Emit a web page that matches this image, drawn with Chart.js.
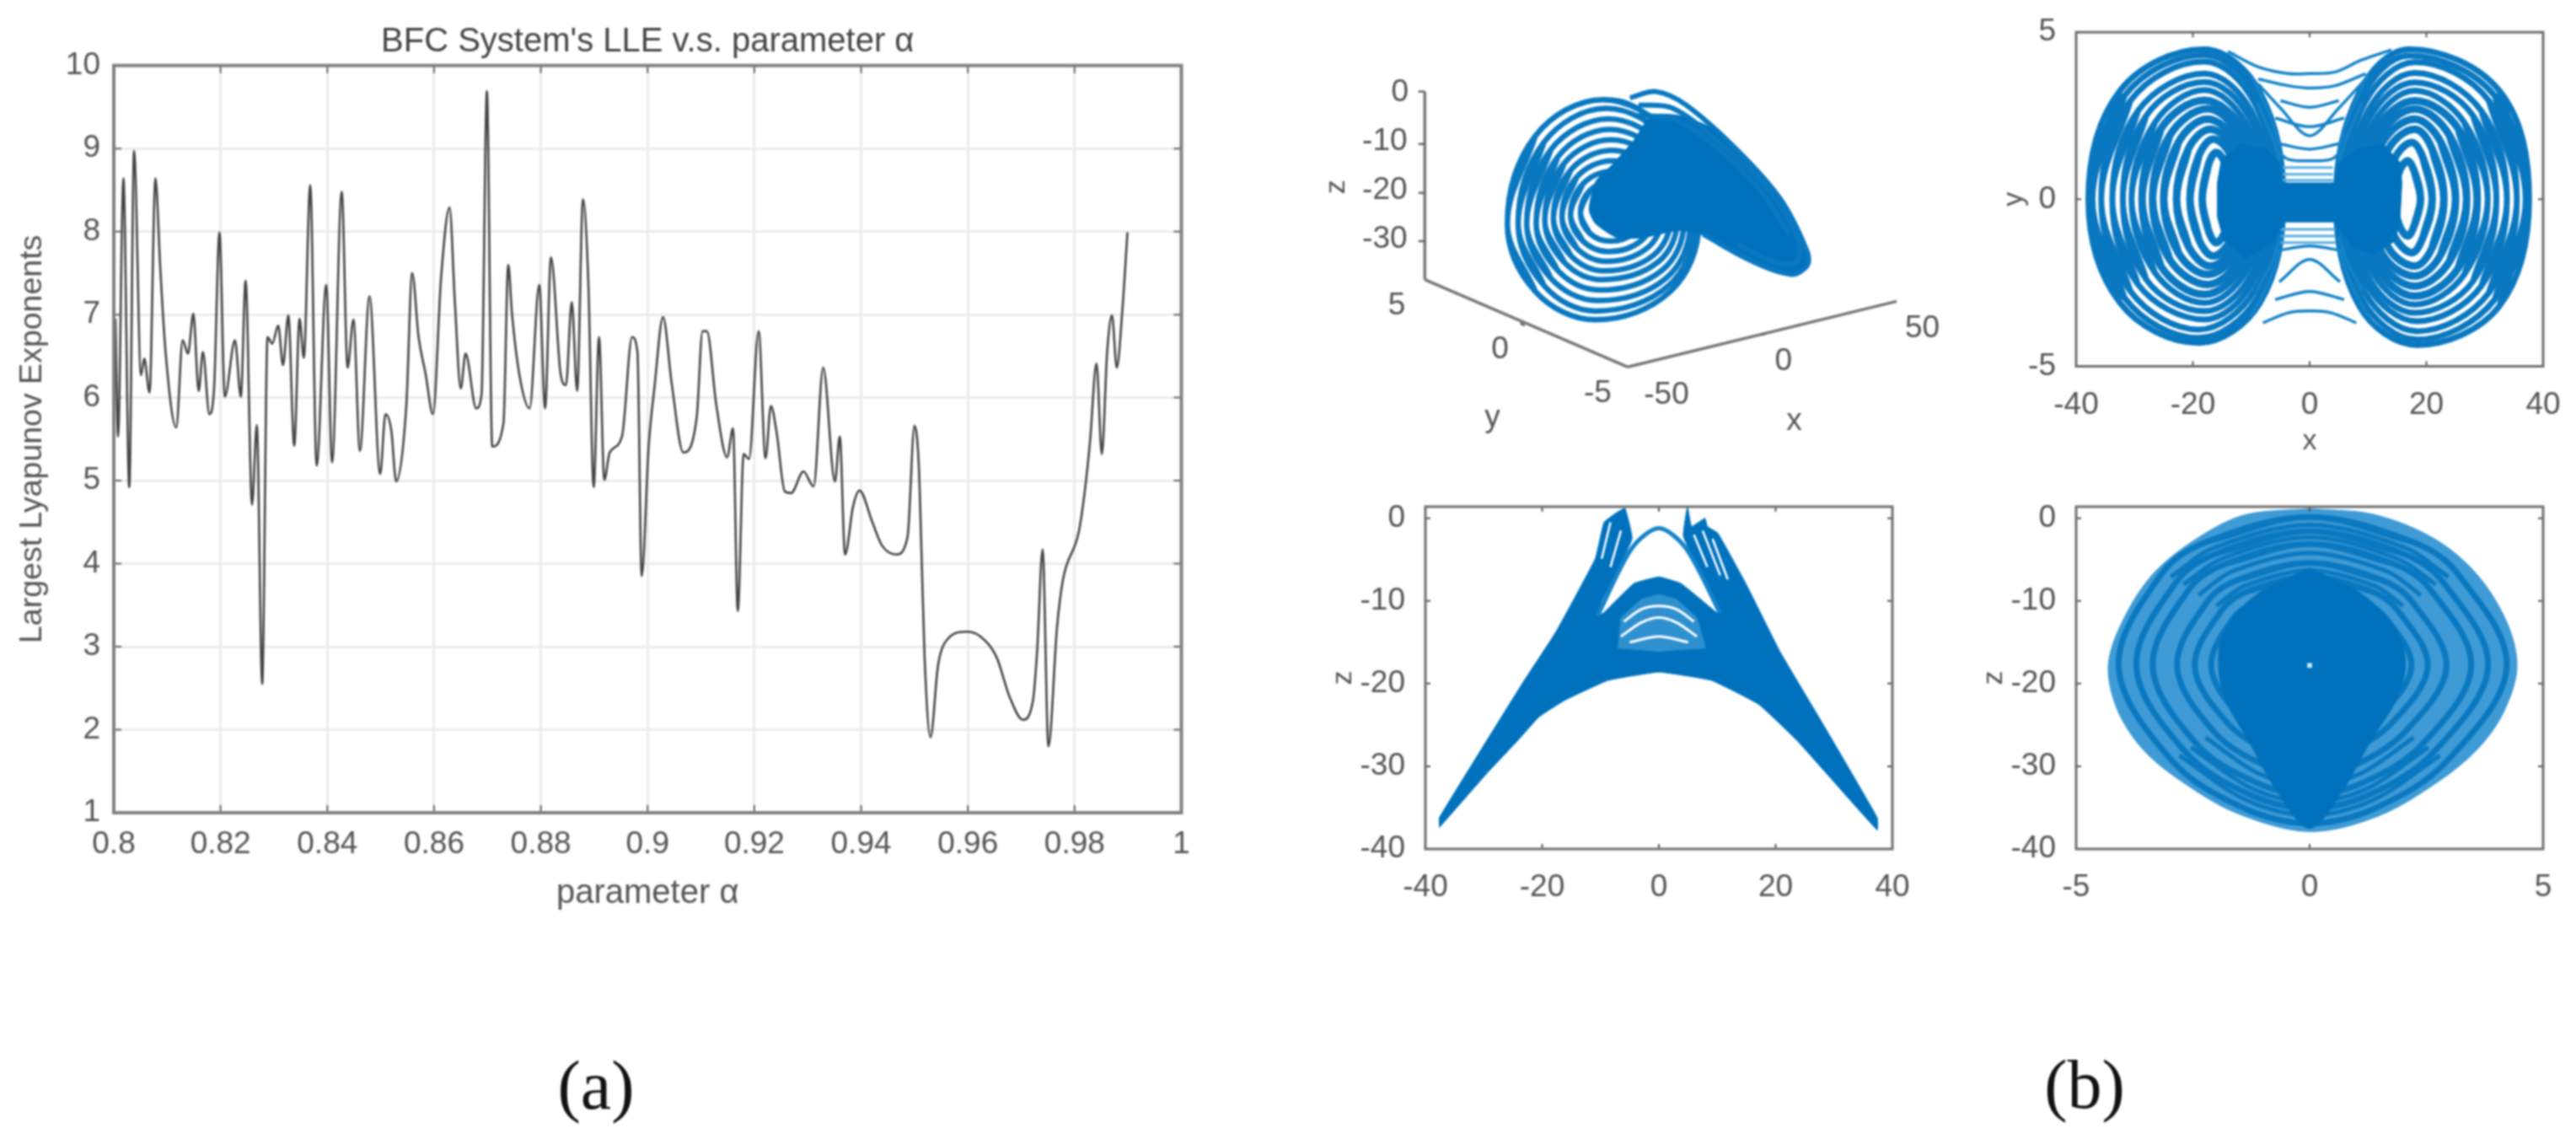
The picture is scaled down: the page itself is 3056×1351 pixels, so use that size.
<!DOCTYPE html>
<html>
<head>
<meta charset="utf-8">
<script src="https://cdn.jsdelivr.net/npm/chart.js@4"></script>
<style>
html, body { margin: 0; background: #fff; }
#page { position: relative; width: 3056px; height: 1351px; overflow: hidden; filter: blur(0.8px); }
canvas { position: absolute; }
.sub { position: absolute; font: 82px "Liberation Serif", serif; color: #111; transform: translate(-50%, -50%); }
</style>
</head>
<body>
<div id="page">
  <canvas id="lle" style="left:0;top:0" width="1552" height="1110"></canvas>
  <canvas id="xyz" style="left:1500px;top:0" width="800" height="650"></canvas>
  <canvas id="xy" style="left:2340px;top:0" width="716" height="560"></canvas>
  <canvas id="xz" style="left:1560px;top:560px" width="740" height="600"></canvas>
  <canvas id="yz" style="left:2340px;top:560px" width="716" height="600"></canvas>
  <div class="sub" style="left:707px;top:1288px">(a)</div>
  <div class="sub" style="left:2473px;top:1287px">(b)</div>
</div>
<script>
// (a) largest lyapunov exponent
var lleAlpha = [.8003,.8008,.8018,.8029,.8038,.8051,.8057,.8067,.8078,.8087,.8097,.8117,.8129,.8139,.8149,.8159,.8167,.8179,.8188,.8198,.8208,.8227,.8238,.8247,.8259,.8268,.8278,.8288,.8297,.8308,.8317,.8327,.8338,.8348,.8356,.8368,.838,.8398,.8409,.8427,.8438,.8449,.8461,.8479,.8499,
  .8509,.852,.8529,.8548,.8559,.8571,.8584,.8598,.8613,.8629,.8639,.865,.8659,.8679,.8689,.8699,.8709,.873,.8739,.8746,.876,.8779,.8797,.8808,.8819,.8837,.8847,.8858,.8868,.8879,.8889,.8899,.8909,.8919,.8929,.8952,.8971,.8981,.8989,.9002,
  .9013,.9029,.9045,.9067,.9092,.9103,.9111,.9129,.9149,.916,.9169,.918,.919,.9208,.9221,.9231,.9242,.9257,.9269,.9292,.9311,.9329,.9351,.936,.937,.9385,.9397,.9421,.9439,.9466,.9487,.95,.9508,
  .9513,.9519,.953,.9544,.9557,.9597,.9622,.9654,.9678,.9703,.9722,.973,.974,.9751,.9767,.9778,.9808,.9819,.9829,.9841,.9851,.9861,.987,.9879,.9889,.9899];
var lleValue = [6.95,5.53,8.64,4.92,8.97,6.27,6.47,6.06,8.64,7.57,6.55,5.64,6.69,6.53,7.01,6.08,6.55,5.8,6.13,7.99,6.01,6.69,6.01,7.41,4.71,5.67,2.55,6.73,6.65,6.87,6.39,6.99,5.42,6.95,6.48,8.56,5.18,7.36,5.22,8.48,6.36,6.94,5.36,7.22,5.08,
  5.8,5.6,4.99,5.9,7.5,6.73,6.29,5.8,7.43,8.29,7.15,6.11,6.53,5.87,6.04,9.69,5.41,5.69,7.6,7.01,6.27,5.87,7.36,5.87,7.69,6.29,6.15,7.15,6.08,8.39,7.39,4.92,6.73,5.01,5.34,5.53,6.73,6.55,3.85,5.41,
  6.13,6.97,6.18,5.34,5.76,6.8,6.8,5.9,5.28,5.63,3.43,5.32,5.26,6.8,5.27,5.9,5.57,4.87,4.85,5.11,4.93,6.36,4.99,5.53,4.11,4.69,4.88,4.5,4.22,4.11,4.32,5.66,5.2,
  4.17,2.87,1.91,2.77,3.05,3.18,3.13,2.87,2.4,2.12,2.35,2.97,4.17,1.8,3.23,3.8,4.39,4.87,5.48,6.41,5.32,6.55,6.99,6.36,7.01,7.99];
var lleXTicks = [.8,.82,.84,.86,.88,.9,.92,.94,.96,.98,1];
var lleYTicks = [1,2,3,4,5,6,7,8,9,10];

// (b) x-y projection, loops around the two lobes as x,y pairs
var xyLeftRings = [
  [-37.9,0,-32.5,3.25,-18,4.49,-8.5,3.2,-4.5,0,-8.5,-3.1,-19,-4.3,-32.5,-3.1],
  [-37.2,0,-31.7,3.1,-18,4.32,-9,3.05,-5,0,-9,-2.95,-19,-4.15,-31.7,-2.95],
  [-35.7,0,-30.7,2.95,-18,4.12,-9.5,2.9,-5.5,0,-9.5,-2.75,-19,-3.9,-30.7,-2.75],
  [-33.8,0,-29.4,2.65,-18,3.76,-10,2.65,-6,0,-10,-2.55,-18,-3.6,-29.4,-2.55],
  [-32,0,-28,2.5,-18,3.51,-10.5,2.5,-6.5,0,-10.5,-2.4,-18,-3.35,-28,-2.4],
  [-30.5,0,-26.5,2.3,-18,3.27,-11,2.3,-7,0,-11,-2.2,-18,-3.1,-26.5,-2.2],
  [-28.7,0,-25.5,2.1,-18,2.96,-11.5,2.1,-8,0,-11.5,-2,-18,-2.85,-25.5,-2],
  [-26.9,0,-24,1.9,-17.5,2.71,-12,1.9,-9,0,-12,-1.8,-17.5,-2.55,-24,-1.8],
  [-25,0,-22.5,1.7,-17.5,2.4,-12.5,1.7,-10,0,-12.5,-1.6,-17.5,-2.25,-22.5,-1.6],
  [-22.8,0,-20.8,1.5,-17,2.1,-13,1.5,-11,0,-13,-1.4,-17,-2,-20.8,-1.4],
  [-20.5,0,-19,1.3,-16.5,1.8,-13.5,1.3,-12,0,-13.5,-1.2,-16.5,-1.7,-19,-1.2],
  [-18.4,0,-17.4,1,-16,1.4,-14.3,1,-13,0,-14.3,-.9,-16,-1.3,-17.4,-.9]
];
var xyRightRings = [
  [37.6,0,32.5,3.25,17,4.49,8.5,3.2,4.5,0,8.5,-3.2,18.4,-4.36,32.5,-3.2],
  [37,0,31.7,3.1,17,4.3,9,3.05,5,0,9,-3,18.4,-4.2,31.7,-3],
  [35.5,0,30.7,2.95,18,4.1,9.5,2.9,5.5,0,9.5,-2.8,18.4,-3.95,30.7,-2.8],
  [33.8,0,29.4,2.65,18,3.78,10,2.65,6,0,10,-2.6,18.4,-3.65,29.4,-2.6],
  [32,0,28,2.5,18,3.5,10.5,2.5,6.5,0,10.5,-2.45,18,-3.4,28,-2.45],
  [30.5,0,26.5,2.3,18,3.25,11,2.3,7,0,11,-2.25,18,-3.15,26.5,-2.25],
  [28.7,0,25.5,2.1,18,2.95,11.5,2.1,8,0,11.5,-2.05,18,-2.9,25.5,-2.05],
  [26.9,0,24,1.9,18,2.7,12,1.9,9,0,12,-1.85,18,-2.6,24,-1.85],
  [25,0,22.5,1.7,18,2.4,12.5,1.7,10,0,12.5,-1.65,18,-2.3,22.5,-1.65],
  [23,0,21,1.5,18,2.1,13.5,1.5,11.5,0,13.5,-1.45,18,-2,21,-1.45],
  [21,0,19.5,1.2,17.5,1.7,14.5,1.2,13,0,14.5,-1.1,17.5,-1.6,19.5,-1.1],
  [19,0,18,.8,16.8,1.15,15.3,.8,14.5,0,15.3,-.75,16.8,-1.1,18,-.75]
];
var xyBridges = [
  [-14,4.42,-8.8,3.96,-3.7,3.76,0,3.76,4.4,3.81,8.8,4.16,14,4.47],
  [-8.8,3.6,-3.7,3.4,0,3.33,4.4,3.4,9.6,3.76],
  [-8.8,3.45,-5,2.73,0,1.9,5,2.73,9.6,3.6],
  [-5,2.95,0,2.75,5,2.95],
  [-5.9,2.43,0,2.17,5.9,2.43],
  [-5.2,1.66,0,1.5,5,1.66],
  [-5.9,1.51,-3.7,1.2,0,1.15,3.7,1.2,5.9,1.51],
  [-8,-3.7,-3.7,-3.4,0,-3.34,3.7,-3.4,8,-3.7],
  [-5.9,-3,0,-2.76,5.9,-3],
  [-5.2,-2.47,0,-1.8,5.2,-2.47],
  [-5.9,-1.55,0,-1.4,5.9,-1.55],
  [-10,3.7,-7,2.6,-5,1.5],[-9,2.9,-6.5,1.9,-5,1.1],[10,3.7,7,2.6,5,1.5],[9,2.9,6.5,1.9,5,1.1],
  [-10,-3.5,-7,-2.5,-5,-1.5],[-9,-2.7,-6.5,-1.9,-5,-1.1],[10,-3.5,7,-2.5,5,-1.5],[9,-2.7,6.5,-1.9,5,-1.1]
];
var xyHatch = [[-4.6,.95,4,.95],[-4.6,.75,4,.75],[-4.6,.57,4,.57],[-5,-.9,4.4,-.9],[-5,-1.1,4.4,-1.1],[-5,-1.3,4.4,-1.3]];
var xyDense = [-15.8,.49,-15.1,1.2,-11.8,1.66,-7.4,1.51,-5.2,1.1,-4.8,.49,4.4,.49,5.2,1.1,8.1,1.51,12.5,1.66,15.5,1.1,15.8,.49,15.5,-.53,14.7,-1.24,11,-1.65,7.4,-1.45,4.4,-.68,-4.3,-.68,-6.6,-1.35,-11,-1.76,-14.7,-1.24,-15.8,-.53];
var xyXTicks = [-40,-20,0,20,40];
var xyYTicks = [-5,0,5];

// (b) x-z projection, outline of the dense band
var xzHull = [-37.6,-37.4,-37.6,-36.2,-23.5,-20.1,-17.6,-13.7,-10.9,-4.9,-9.4,-.5,-7.2,.7,-5.8,1.2,-4.6,-2.5,-9.8,-10.1,-10.5,-11.8,-9.4,-11.4,-4.3,-7.9,0,-7.1,3.8,-7.9,9.9,-11.4,10.5,-11.3,9.6,-10.1,4.2,-2.2,4.9,1.4,5.6,-1,7.9,0,8.3,-1,10.1,-1.8,14.9,-7.9,20.8,-16.2,28.2,-25,37.4,-36.2,37.4,-37.7,23.7,-26.9,17.1,-22.5,9,-19.6,0,-18.6,-8.7,-19.6,-16.1,-22,-20.5,-24,-24.2,-26.9,-29.4,-30.8];
var xzApex = [-10.5,-11.8,-4.6,-3.6,0,-1.2,4.6,-3.6,10.5,-11.5];
var xzInner = [-7,-15.7,-6.5,-12,-3,-9.8,0,-9.2,3,-9.8,6.5,-12,8,-15.7,3,-15.9,0,-16.1,-3,-15.9];
var xzArcs = [[-6,-12.5,-3,-11,0,-10.6,3,-11,6,-12.5],[-6.5,-14.3,-3,-12.6,0,-12,3,-12.6,6.5,-14.3],[-5,-15,0,-14.3,5,-15]];
var xzSlits = [[-8.3,-.5,-9.8,-4.9],[-6.5,-1.5,-8.3,-5.9],[6,-2,8.3,-5.9],[7.5,-1.5,10.5,-6.9],[9.2,-2.5,11.8,-7.4]];
var xzXTicks = [-40,-20,0,20,40];
var zTicks = [-40,-30,-20,-10,0];

// (b) y-z projection, envelope and nested loops
var yzOuter = [0,1.17,-1.37,.44,-2.29,-2,-3.3,-6.4,-3.95,-11.8,-4.31,-17.6,-4.13,-23,-3.58,-27.9,-2.75,-31.8,-1.55,-35.7,0,-37.9,1.48,-36,2.77,-31.8,3.6,-27.9,4.15,-23.5,4.44,-18.1,4.24,-12.8,3.6,-6.9,2.68,-2.5,1.39,.44];
var yzRings = [
  [0,.15,-2.18,-2.8,-3.14,-6.5,-4.09,-17.9,-2.95,-29.3,-1.43,-35,0,-36.9,1.43,-35,2.95,-29.3,4.22,-17.9,3.14,-6.5,2.18,-2.8],
  [0,-1.56,-1.97,-4.2,-2.84,-7.6,-3.71,-17.9,-2.67,-28.2,-1.29,-33.4,0,-35.1,1.29,-33.4,2.67,-28.2,3.82,-17.9,2.84,-7.6,1.97,-4.2],
  [0,-3.1,-1.79,-5.5,-2.57,-8.5,-3.36,-17.9,-2.42,-27.3,-1.17,-31.9,0,-33.5,1.17,-31.9,2.42,-27.3,3.46,-17.9,2.57,-8.5,1.79,-5.5],
  [0,-5.4,-1.51,-7.4,-2.18,-10,-2.84,-17.9,-2.05,-25.8,-.99,-29.8,0,-31.1,.99,-29.8,2.05,-25.8,2.93,-17.9,2.18,-10,1.51,-7.4],
  [0,-7.1,-1.31,-8.8,-1.88,-11.1,-2.46,-17.9,-1.77,-24.7,-.86,-28.2,0,-29.3,.86,-28.2,1.77,-24.7,2.53,-17.9,1.88,-11.1,1.31,-8.8],
  [0,-8.6,-1.12,-10.1,-1.62,-12,-2.11,-17.9,-1.52,-23.8,-.74,-26.7,0,-27.7,.74,-26.7,1.52,-23.8,2.18,-17.9,1.62,-12,1.12,-10.1]
];
var yzArcs = [
  [-2.97,-7.1,-2.06,-3.6,0,-.8,2.06,-3.6,2.97,-7.1],
  [-2.7,-8,-1.88,-4.9,0,-2.3,1.88,-4.9,2.7,-8],
  [-2.38,-9.3,-1.65,-6.4,0,-4.2,1.65,-6.4,2.38,-9.3],
  [-2,-10.6,-1.4,-8.2,0,-6.3,1.4,-8.2,2,-10.6],
  [-2.79,-28.7,-1.35,-34.1,0,-35.9,1.35,-34.1,2.79,-28.7],
  [-2.54,-27.7,-1.23,-32.7,0,-34.3,1.23,-32.7,2.54,-27.7],
  [-2.23,-26.5,-1.08,-30.9,0,-32.3,1.08,-30.9,2.23,-26.5]
];
var yzCore = [0,-6,-1.2,-9.5,-1.85,-14,-1.95,-17.9,-1.8,-22,-1.3,-27,-.7,-33,0,-37.5,.7,-33,1.3,-27,1.85,-22,2.05,-17.9,1.9,-14,1.2,-9.5];
var yzHole = [0,-17.8];
var yzXTicks = [-5,0,5];

// (b) 3d view, positions on the view plane
var viewLoops = [
  [565,640,630,389,787,285,944,389,1010,640,944,834,770,915,630,834],
  [590,640,650,407,795,310,940,407,1000,640,940,817,770,890,650,817],
  [610,640,666,428,800,340,934,428,990,640,934,796,775,860,666,796],
  [632,640,682,449,803,370,924,449,975,640,924,774,780,830,682,774],
  [652,630,697,467,806,400,915,467,960,630,915,750,785,800,697,750],
  [672,625,712,487,808,430,904,487,945,625,904,731,790,775,712,731],
  [692,620,726,507,808,460,890,507,925,620,890,710,795,748,726,710],
  [712,615,740,527,808,490,876,527,905,615,876,689,800,720,740,689],
  [735,610,756,546,807,520,858,546,880,610,858,667,805,690,756,667]
];
var viewDense = [810,470,860,400,900,330,960,330,1030,360,1100,430,1170,530,1230,630,1262,720,1262,760,1225,785,1170,770,1090,720,1015,670,960,660,880,680,820,680,770,640,755,600,770,520];
var viewArcs = [
  [850,280,910,262,980,300,1100,430,1200,570,1262,720,1262,760,1225,785,1130,745,1020,670],
  [870,300,950,310,1060,410,1170,540,1240,680,1240,745,1200,755,1100,700],
  [860,330,950,340,1030,400,1150,540,1220,670],
  [790,285,830,290,870,310]
];
var viewAxes = [[373,262,373,800],[373,800,845,1050],[845,1050,1470,862]];
var viewTickMarks = [[358,262,373,262],[358,412,373,412],[358,552,373,552],[358,690,373,690],[595,925,605,932],[1155,958,1165,955]];
var viewLabels = ['0','-10','-20','-30','5','0','-5','-50','0','50','y','x'];
var viewLabelH = [315,280,280,280,308,548,775,935,1207,1530,530,1232];
var viewLabelV = [265,405,545,685,875,1000,1125,1130,1035,940,1195,1205];
var viewZLabel = ['z',168,535];

var tickFont = { family: 'Liberation Sans', size: 37 };
var titleFont = { family: 'Liberation Sans', size: 34 };
var inkColor = '#555';
var traceBlue = '#0072bd';

function pairs(flat, close) {
  var pts = [];
  for (var i = 0; i < flat.length; i += 2) pts.push({ x: flat[i], y: flat[i + 1] });
  if (close) pts.push({ x: flat[0], y: flat[1] });
  return pts;
}
// closed loops run past their seam so the smoothing has no corner there
function loopPoints(flat) {
  var pts = pairs(flat), n = pts.length;
  return [pts[n - 1]].concat(pts, [pts[0], pts[1]]);
}
function curve(flat, color, width, tension, close) {
  return { data: close ? loopPoints(flat) : pairs(flat), borderColor: color, borderWidth: width, tension: tension, pointRadius: 0, fill: false };
}
function patch(flat, color, tension) {
  return { data: pairs(flat, true), borderColor: color, backgroundColor: color, borderWidth: 1, tension: tension || 0, pointRadius: 0, fill: 'shape' };
}
// first in the list is painted first
function stacked(list) {
  list.forEach(function (d, i) { d.order = -i; });
  return list;
}

var boxFrame = {
  id: 'boxFrame',
  afterDatasetsDraw: function (chart) {
    var o = chart.options.plugins.boxFrame, a = chart.chartArea, c = chart.ctx;
    if (!o || !o.color) return;
    c.save();
    c.strokeStyle = o.tickColor;
    c.lineWidth = 2;
    chart.scales.x.ticks.forEach(function (t) {
      var p = chart.scales.x.getPixelForValue(t.value);
      c.beginPath();
      c.moveTo(p, a.bottom); c.lineTo(p, a.bottom - o.tick);
      c.moveTo(p, a.top); c.lineTo(p, a.top + o.tick);
      c.stroke();
    });
    chart.scales.y.ticks.forEach(function (t) {
      var p = chart.scales.y.getPixelForValue(t.value);
      c.beginPath();
      c.moveTo(a.left, p); c.lineTo(a.left + o.tick, p);
      c.moveTo(a.right, p); c.lineTo(a.right - o.tick, p);
      c.stroke();
    });
    c.strokeStyle = o.color;
    c.lineWidth = o.width;
    c.strokeRect(a.left, a.top, a.right - a.left, a.bottom - a.top);
    c.restore();
  }
};

function axis(ticks, min, max, box, title, titlePad, reach, grid, titleSize) {
  var opt = {
    type: 'linear', min: min, max: max,
    afterBuildTicks: function (s) { s.ticks = ticks.map(function (v) { return { value: v }; }); },
    afterFit: function (s) { if (s.isHorizontal()) s.height = box; else s.width = box; },
    grid: grid || { display: false },
    border: { display: false },
    ticks: {
      autoSkip: false, maxRotation: 0, font: tickFont, color: inkColor, padding: reach,
      callback: function (v) { return String(Number(v.toFixed(2))); }
    }
  };
  if (title) opt.title = {
    display: true, text: title, color: inkColor,
    font: { family: titleFont.family, size: titleSize || titleFont.size },
    padding: { top: titlePad, bottom: titlePad }
  };
  return opt;
}

function panel(id, datasets, xAxis, yAxis, pad, frame, title) {
  return new Chart(document.getElementById(id), {
    type: 'line',
    data: { datasets: datasets },
    options: {
      responsive: false, animation: false, devicePixelRatio: 1,
      layout: { padding: pad },
      scales: { x: xAxis, y: yAxis },
      plugins: { legend: { display: false }, tooltip: { enabled: false }, boxFrame: frame, title: title || { display: false } }
    },
    plugins: [boxFrame]
  });
}

var gridV = { color: '#ececec', lineWidth: 3, drawTicks: false };

panel('lle',
  [{ data: lleAlpha.map(function (a, i) { return { x: a, y: lleValue[i] }; }), borderColor: '#444', borderWidth: 2.6, cubicInterpolationMode: 'monotone', pointRadius: 0, fill: false }],
  axis(lleXTicks, .8, 1, 146, 'parameter α', 26, 16, gridV, 40),
  axis(lleYTicks, 1, 10, 135, 'Largest Lyapunov Exponents', 16, 16, gridV, 37.5),
  { right: 150.5 },
  { color: '#808080', tickColor: '#666', width: 4, tick: 9 },
  { display: true, fullSize: false, text: "BFC System's LLE v.s. parameter α", font: { family: 'Liberation Sans', size: 40, weight: 'normal' }, color: '#444', padding: { top: 26, bottom: 3.7 } }
);

function ringWidth(i) { return i < 6 ? 7 : 9; }

panel('xy',
  stacked([].concat(
    xyLeftRings.map(function (r, i) { return curve(r, '#0a78c0', ringWidth(i), .37, true); }),
    xyRightRings.map(function (r, i) { return curve(r, '#0a78c0', ringWidth(i), .37, true); }),
    xyHatch.map(function (r) { return curve(r, '#5aaee0', 3, 0); }),
    xyBridges.map(function (r) { return curve(r, '#1583c9', 3.5, .33); }),
    [patch(xyDense, traceBlue)]
  )),
  axis(xyXTicks, -40, 40, 125.5, 'x', 15.6, 16),
  axis(xyYTicks, -5, 5, 123, 'y', 29.6, 16),
  { top: 28, right: 39 },
  { color: '#6e6e6e', tickColor: '#555', width: 3, tick: 6 }
);

panel('xz',
  stacked([].concat(
    [patch(xzHull, traceBlue, .1), curve(xzApex, '#1583c9', 5, .3)],
    [patch(xzInner, '#2f90d0')],
    xzArcs.map(function (r) { return curve(r, '#fff', 3, .33); }),
    xzSlits.map(function (r) { return curve(r, '#fff', 2.5, 0); })
  )),
  axis(xzXTicks, -40, 40, 153, null, 0, 16),
  axis(zTicks, -40, 1.4, 131, 'z', 13.6, 16),
  { top: 41, right: 55 },
  { color: '#6e6e6e', tickColor: '#555', width: 3, tick: 6 }
);

panel('yz',
  stacked([].concat(
    [patch(yzOuter, '#3f9bd5', .33)],
    yzRings.map(function (r) { return curve(r, '#0a78c0', 7, .35, true); }),
    yzArcs.map(function (r) { return curve(r, '#0a78c0', 5, .33); }),
    [patch(yzCore, traceBlue, .33)],
    [{ data: pairs(yzHole), pointStyle: 'rect', pointRadius: 4, pointBackgroundColor: '#cfe8f8', pointBorderWidth: 0, showLine: false }]
  )),
  axis(yzXTicks, -5, 5, 153, null, 0, 16),
  axis(zTicks, -40, 1.4, 123, 'z', 5.6, 16),
  { top: 41, right: 39 },
  { color: '#6e6e6e', tickColor: '#555', width: 3, tick: 6 }
);

// 3d panel: hidden view-plane scales, axis text placed through them
var viewText = {
  id: 'viewText',
  afterDatasetsDraw: function (chart) {
    var c = chart.ctx, sx = chart.scales.x, sy = chart.scales.y;
    c.save();
    c.fillStyle = inkColor;
    c.font = '37px "Liberation Sans"';
    c.textAlign = 'center';
    c.textBaseline = 'middle';
    viewLabels.forEach(function (t, i) {
      c.fillText(t, sx.getPixelForValue(viewLabelH[i]), sy.getPixelForValue(viewLabelV[i]));
    });
    c.translate(sx.getPixelForValue(viewZLabel[1]), sy.getPixelForValue(viewZLabel[2]));
    c.rotate(-Math.PI / 2);
    c.font = '34px "Liberation Sans"';
    c.fillText(viewZLabel[0], 0, 0);
    c.restore();
  }
};
new Chart(document.getElementById('xyz'), {
  type: 'line',
  data: {
    datasets: stacked([].concat(
      viewAxes.map(function (r) { return curve(r, '#777', 3.5, 0); }),
      viewTickMarks.map(function (r) { return curve(r, '#666', 2.5, 0); }),
      viewLoops.map(function (r) { return curve(r, '#0a78c0', 6.5, .37, true); }),
      [patch(viewDense, traceBlue, .2)],
      viewArcs.map(function (r) { return curve(r, '#0a78c0', 6, .33); })
    ))
  },
  options: {
    responsive: false, animation: false, devicePixelRatio: 1,
    scales: {
      x: { type: 'linear', min: 0, max: 1568, display: false },
      y: { type: 'linear', min: 0, max: 1568, reverse: true, display: false }
    },
    plugins: { legend: { display: false }, tooltip: { enabled: false }, title: { display: false } }
  },
  plugins: [viewText]
});
</script>
</body>
</html>
